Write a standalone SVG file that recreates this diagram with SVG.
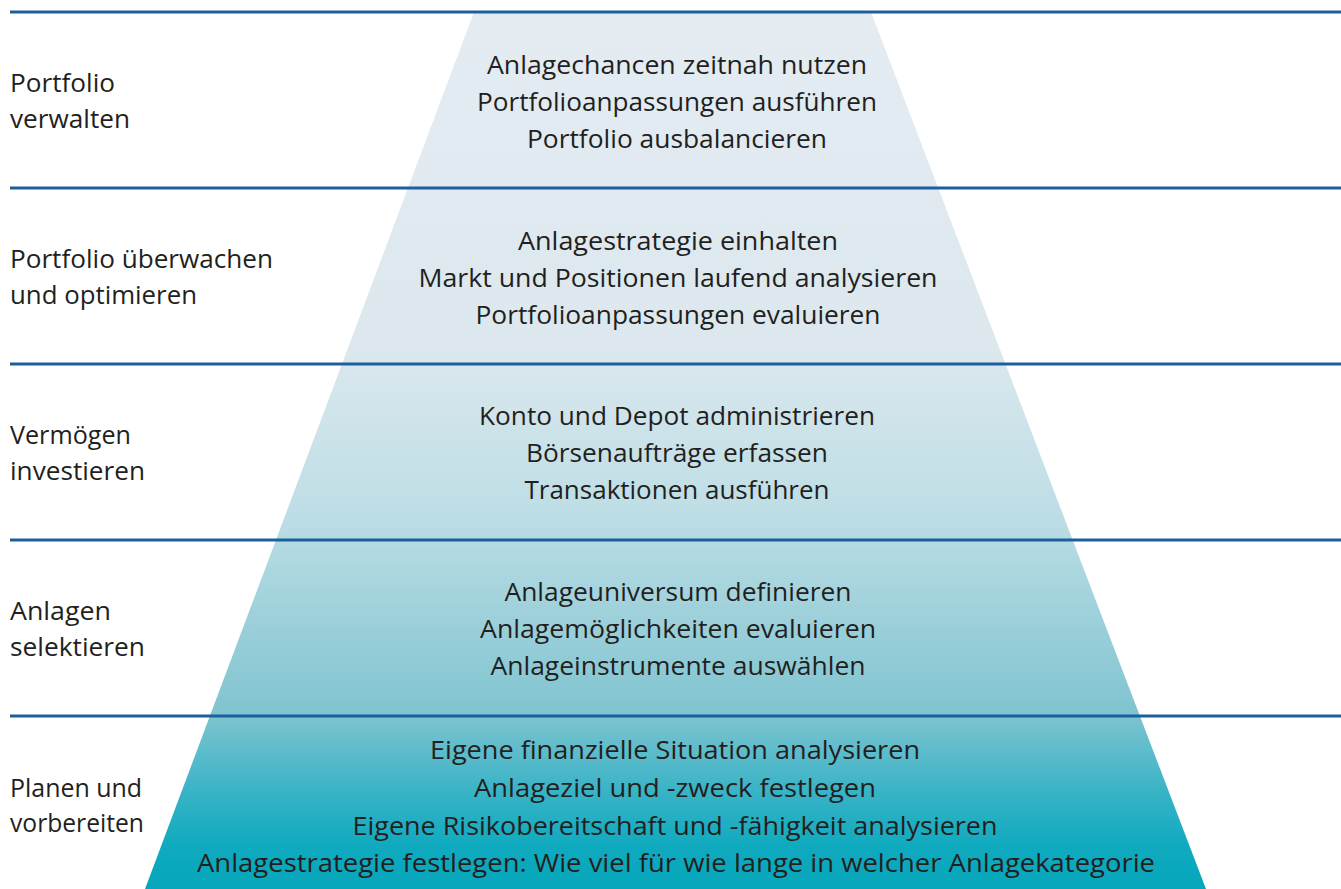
<svg xmlns="http://www.w3.org/2000/svg" width="1341" height="889" viewBox="0 0 1341 889">
  <defs>
    <linearGradient id="pyramidFill" gradientUnits="userSpaceOnUse" x1="0" y1="12" x2="0" y2="889">
      <stop offset="0" stop-color="#e4ecf2"/>
      <stop offset="0.38" stop-color="#dce8ee"/>
      <stop offset="0.58" stop-color="#bcdde5"/>
      <stop offset="0.80" stop-color="#7fc4d0"/>
      <stop offset="0.89" stop-color="#38b3c6"/>
      <stop offset="0.95" stop-color="#10aabf"/>
      <stop offset="1" stop-color="#05a6bb"/>
    </linearGradient>
    <style>
      text { font-family: "Open Sans", "Noto Sans", "Liberation Sans", sans-serif; font-size: 26px; fill: #231f20; }
      .center { text-anchor: middle; }
      .divider { stroke: #1c5f9f; stroke-width: 3; fill: none; }
    </style>
  </defs>

  <rect width="1341" height="889" fill="#ffffff"/>

  <!-- pyramid body -->
  <polygon id="pyramid" points="474,12 871,12 1206,889 145,889" fill="url(#pyramidFill)"/>

  <!-- level dividers -->
  <g id="dividers">
    <line class="divider" x1="10" y1="12" x2="1341" y2="12"/>
    <line class="divider" x1="10" y1="188" x2="1341" y2="188"/>
    <line class="divider" x1="10" y1="364" x2="1341" y2="364"/>
    <line class="divider" x1="10" y1="540" x2="1341" y2="540"/>
    <line class="divider" x1="10" y1="716" x2="1341" y2="716"/>
  </g>

  <!-- level 5: manage -->
  <g id="level-manage">
    <text x="10" y="92" textLength="105" lengthAdjust="spacingAndGlyphs">Portfolio</text>
    <text x="10" y="128" textLength="120" lengthAdjust="spacingAndGlyphs">verwalten</text>
    <text class="center" x="677" y="74" textLength="380" lengthAdjust="spacingAndGlyphs">Anlagechancen zeitnah nutzen</text>
    <text class="center" x="677" y="111" textLength="400" lengthAdjust="spacingAndGlyphs">Portfolioanpassungen ausführen</text>
    <text class="center" x="677" y="148" textLength="300" lengthAdjust="spacingAndGlyphs">Portfolio ausbalancieren</text>
  </g>

  <!-- level 4: monitor -->
  <g id="level-monitor">
    <text x="10" y="268" textLength="263" lengthAdjust="spacingAndGlyphs">Portfolio überwachen</text>
    <text x="10" y="304" textLength="187" lengthAdjust="spacingAndGlyphs">und optimieren</text>
    <text class="center" x="678" y="250" textLength="320" lengthAdjust="spacingAndGlyphs">Anlagestrategie einhalten</text>
    <text class="center" x="678" y="287" textLength="519" lengthAdjust="spacingAndGlyphs">Markt und Positionen laufend analysieren</text>
    <text class="center" x="678" y="324" textLength="405" lengthAdjust="spacingAndGlyphs">Portfolioanpassungen evaluieren</text>
  </g>

  <!-- level 3: invest -->
  <g id="level-invest">
    <text x="10" y="444" textLength="121" lengthAdjust="spacingAndGlyphs">Vermögen</text>
    <text x="10" y="480" textLength="135" lengthAdjust="spacingAndGlyphs">investieren</text>
    <text class="center" x="677" y="425" textLength="396" lengthAdjust="spacingAndGlyphs">Konto und Depot administrieren</text>
    <text class="center" x="677" y="462" textLength="302" lengthAdjust="spacingAndGlyphs">Börsenaufträge erfassen</text>
    <text class="center" x="677" y="499" textLength="305" lengthAdjust="spacingAndGlyphs">Transaktionen ausführen</text>
  </g>

  <!-- level 2: select -->
  <g id="level-select">
    <text x="10" y="620" textLength="101" lengthAdjust="spacingAndGlyphs">Anlagen</text>
    <text x="10" y="656" textLength="135" lengthAdjust="spacingAndGlyphs">selektieren</text>
    <text class="center" x="678" y="601" textLength="347" lengthAdjust="spacingAndGlyphs">Anlageuniversum definieren</text>
    <text class="center" x="678" y="638" textLength="396" lengthAdjust="spacingAndGlyphs">Anlagemöglichkeiten evaluieren</text>
    <text class="center" x="678" y="675" textLength="375" lengthAdjust="spacingAndGlyphs">Anlageinstrumente auswählen</text>
  </g>

  <!-- level 1: plan -->
  <g id="level-plan">
    <text x="10" y="797" textLength="132" lengthAdjust="spacingAndGlyphs">Planen und</text>
    <text x="10" y="832" textLength="134" lengthAdjust="spacingAndGlyphs">vorbereiten</text>
    <text class="center" x="675" y="759" textLength="490" lengthAdjust="spacingAndGlyphs">Eigene finanzielle Situation analysieren</text>
    <text class="center" x="675" y="797" textLength="402" lengthAdjust="spacingAndGlyphs">Anlageziel und -zweck festlegen</text>
    <text class="center" x="675" y="835" textLength="645" lengthAdjust="spacingAndGlyphs">Eigene Risikobereitschaft und -fähigkeit analysieren</text>
    <text class="center" x="676" y="872" textLength="958" lengthAdjust="spacingAndGlyphs">Anlagestrategie festlegen: Wie viel für wie lange in welcher Anlagekategorie</text>
  </g>
</svg>
